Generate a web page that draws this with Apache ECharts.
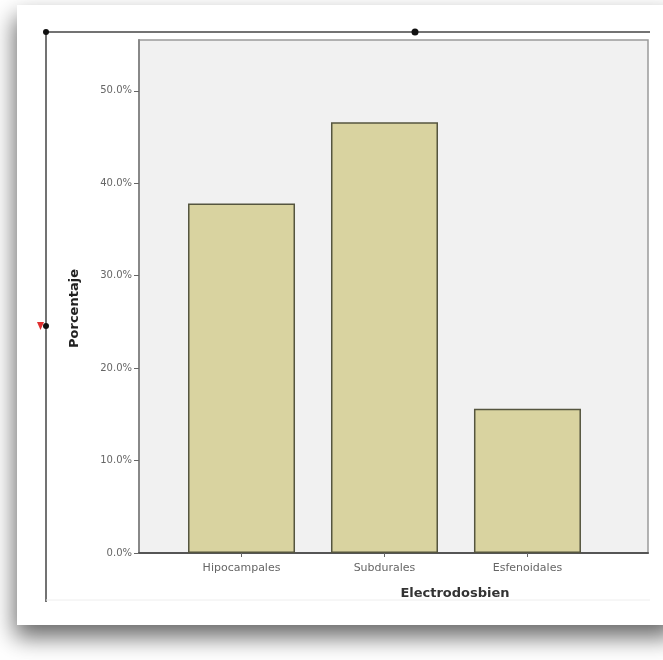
<!DOCTYPE html>
<html>
<head>
<meta charset="utf-8">
<script src="https://cdn.jsdelivr.net/npm/echarts@6/dist/echarts.min.js"></script>
<style>html,body{margin:0;padding:0;background:#fff;}#c{width:663px;height:660px;}</style>
</head>
<body>
<div id="c"></div>
<script>
const categories = ['Hipocampales', 'Subdurales', 'Esfenoidales'];
const values = [37.8, 46.6, 15.6];
const yTicks = [0, 10, 20, 30, 40, 50];

const positions = categories.map((c, i) => i + 1);
const chart = echarts.init(document.getElementById('c'), null, {renderer: 'canvas'});
chart.setOption({
  animation: false,
  backgroundColor: '#ffffff',
  graphic: [
    {type: 'rect', z: -10, shape: {x: 0, y: 0, width: 663, height: 660}, style: {fill: '#ffffff'}, silent: true},
    {type: 'rect', z: -9, shape: {x: 17, y: 5, width: 660, height: 620}, style: {fill: '#ffffff', shadowColor: 'rgba(0,0,0,0.6)', shadowBlur: 22, shadowOffsetY: 12, shadowOffsetX: -2}, silent: true},
    {type: 'line', z: 5, shape: {x1: 46, y1: 32, x2: 650, y2: 32}, style: {stroke: '#444', lineWidth: 1.5}, silent: true},
    {type: 'line', z: 5, shape: {x1: 46, y1: 32, x2: 46, y2: 602}, style: {stroke: '#444', lineWidth: 1.5}, silent: true},
    {type: 'line', z: 5, shape: {x1: 46, y1: 600, x2: 650, y2: 600}, style: {stroke: '#eeeeee', lineWidth: 1}, silent: true},
    {type: 'circle', z: 6, shape: {cx: 46, cy: 32, r: 3}, style: {fill: '#111'}, silent: true},
    {type: 'circle', z: 6, shape: {cx: 415, cy: 32, r: 3.5}, style: {fill: '#111'}, silent: true},
    {type: 'circle', z: 6, shape: {cx: 46, cy: 326, r: 3}, style: {fill: '#111'}, silent: true},
    {type: 'polygon', z: 6, shape: {points: [[37, 322], [44, 322], [40.5, 330]]}, style: {fill: '#e03030'}, silent: true}
  ],
  grid: {
    left: 139, top: 40, right: 15, bottom: 107,
    show: true, backgroundColor: '#f1f1f1', borderColor: '#9a9a9a', borderWidth: 1.5
  },
  xAxis: {
    type: 'value',
    min: 0.283, max: 3.843,
    splitLine: {show: false},
    axisLine: {show: true, lineStyle: {color: '#555', width: 2}},
    axisTick: {show: true, customValues: positions, length: 4, lineStyle: {color: '#666'}},
    axisLabel: {
      customValues: positions, margin: 10, fontSize: 11, color: '#666', fontFamily: 'DejaVu Sans',
      formatter: v => categories[Math.round(v) - 1] || ''
    },
    name: 'Electrodosbien', nameLocation: 'middle', nameGap: 34,
    nameTextStyle: {fontSize: 13, fontWeight: 'bold', color: '#333', fontFamily: 'DejaVu Sans', padding: [0, 0, 0, 123]}
  },
  yAxis: {
    type: 'value',
    min: 0, max: 55.5,
    splitLine: {show: false},
    axisLine: {show: true, lineStyle: {color: '#888', width: 2}},
    axisTick: {show: true, customValues: yTicks, length: 5, lineStyle: {color: '#666'}},
    axisLabel: {customValues: yTicks, fontSize: 10, color: '#666', margin: 7, fontFamily: 'DejaVu Sans',
      formatter: v => v.toFixed(1) + '%'},
    name: 'Porcentaje', nameLocation: 'middle', nameGap: 58,
    nameTextStyle: {fontSize: 13, fontWeight: 'bold', color: '#222', fontFamily: 'DejaVu Sans', padding: [0, 24, 0, 0]}
  },
  series: [{
    type: 'bar',
    data: values.map((v, i) => [positions[i], v]),
    barWidth: 107,
    itemStyle: {color: '#d9d3a0', borderColor: '#55553f', borderWidth: 1.5}
  }]
});
</script>
</body>
</html>
